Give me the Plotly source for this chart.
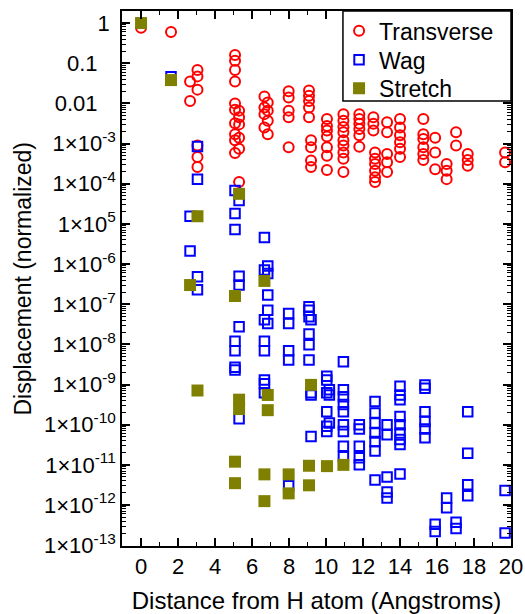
import plotly.graph_objects as go

# ---------------- data ----------------
trans_x = [0, 1.62,
           3.05, 3.05, 3.05, 3.05, 3.05, 3.05,
           2.65, 2.65,
           5.08, 5.08, 5.08, 5.08, 5.08, 5.08, 5.08, 5.08, 5.08, 5.08,
           5.3, 5.3, 5.3, 5.3, 5.3, 5.3,
           6.67, 6.67, 6.67, 6.67,
           6.85, 6.85, 6.85, 6.85,
           7.98, 7.98, 7.98, 7.98, 7.98,
           9.08, 9.08, 9.08, 9.08, 9.08,
           9.19, 9.19, 9.19, 9.19,
           10.05, 10.05, 10.05, 10.05, 10.05, 10.05, 10.05,
           10.94, 10.94, 10.94, 10.94, 10.94, 10.94, 10.94, 10.94, 10.94,
           11.8, 11.8, 11.8, 11.8, 11.8, 11.8,
           12.56, 12.56, 12.56,
           12.65, 12.65, 12.65, 12.65, 12.65, 12.65,
           13.3, 13.3, 13.3, 13.3, 13.3,
           14.0, 14.0, 14.0, 14.0, 14.0, 14.0,
           15.26, 15.26, 15.26, 15.26, 15.26, 15.26,
           15.9, 15.9, 15.9,
           16.52, 16.52, 16.52,
           17.03, 17.03,
           17.66, 17.66, 17.66,
           19.68, 19.68]
trans_y = [0.76, 0.6,
           0.068, 0.047, 0.022, 8.9e-4, 4.6e-4, 2.6e-4,
           0.035, 0.0115,
           0.16, 0.115, 0.068, 0.035, 0.010, 6.9e-3, 3.2e-3, 1.7e-3, 1.2e-3, 5.8e-4,
           6.6e-3, 4.5e-3, 3.0e-3, 1.4e-3, 7.4e-4, 1.1e-4,
           0.0148, 7.9e-3, 5.4e-3, 2.5e-3,
           0.0105, 6.6e-3, 3.7e-3, 1.7e-3,
           0.020, 0.014, 6.6e-3, 4.5e-3, 8.1e-4,
           0.021, 0.0155, 0.0115, 7.9e-3, 4.5e-3,
           1.2e-3, 8.1e-4, 3.8e-4, 2.6e-4,
           4.1e-3, 2.75e-3, 2.1e-3, 1.5e-3, 8.1e-4, 5.0e-4, 2.2e-4,
           5.4e-3, 3.7e-3, 2.6e-3, 1.9e-3, 1.2e-3, 8.9e-4, 6.0e-4, 4.2e-4, 1.95e-4,
           5.4e-3, 4.1e-3, 3.1e-3, 2.3e-3, 1.6e-3, 8.3e-4,
           4.5e-3, 3.1e-3, 2.1e-3,
           6.0e-4, 4.2e-4, 3.1e-4, 2.1e-4, 1.45e-4, 1.1e-4,
           3.4e-3, 1.9e-3, 5.5e-4, 3.4e-4, 1.95e-4,
           4.1e-3, 2.5e-3, 1.6e-3, 1.07e-3, 7.4e-4, 4.6e-4,
           4.1e-3, 1.7e-3, 1.3e-3, 8.1e-4, 5.5e-4, 3.9e-4,
           1.4e-3, 6.0e-4, 2.3e-4,
           3.1e-4, 2.1e-4, 1.3e-4,
           1.9e-3, 8.9e-4,
           5.5e-4, 3.9e-4, 2.8e-4,
           6.0e-4, 3.4e-4]

wag_x = [1.62,
         3.05, 3.05, 3.05, 3.05,
         2.65, 2.65,
         5.08, 5.08, 5.08, 5.08, 5.08, 5.08, 5.08,
         5.3, 5.3, 5.3, 5.3, 5.3,
         6.67, 6.67, 6.67, 6.67, 6.67, 6.67, 6.67, 6.67,
         6.85, 6.85, 6.85, 6.85, 6.85,
         7.98, 7.98, 7.98, 7.98, 7.98,
         9.08, 9.08, 9.08, 9.08, 9.08, 9.08,
         9.19, 9.19, 9.19, 9.19,
         10.04, 10.04, 10.04, 10.04, 10.04, 10.04,
         10.18, 10.18, 10.18,
         10.94, 10.94, 10.94, 10.94, 10.94, 10.94, 10.94, 10.94, 10.94,
         11.8, 11.8, 11.8, 11.8, 11.8,
         12.65, 12.65, 12.65, 12.65, 12.65, 12.65, 12.65,
         13.3, 13.3, 13.3, 13.3, 13.3,
         14.0, 14.0, 14.0, 14.0, 14.0, 14.0, 14.0, 14.0, 14.0,
         15.35, 15.35, 15.35, 15.35, 15.35, 15.35,
         15.9, 15.9,
         16.52, 16.52,
         17.03, 17.03,
         17.66, 17.66, 17.66, 17.66,
         19.68, 19.68]
wag_y = [0.046,
         8.5e-4, 1.3e-4, 4.8e-7, 2.3e-7,
         1.55e-5, 2.1e-6,
         6.8e-5, 1.8e-5, 7.2e-6, 1.2e-8, 6.9e-9, 2.7e-9, 2.3e-9,
         3.8e-5, 5.0e-7, 3.0e-7, 2.75e-8, 1.4e-10,
         4.6e-6, 7.1e-7, 4.1e-8, 1.2e-8, 6.9e-9, 1.3e-9, 1.05e-9, 6.2e-10,
         8.9e-7, 5.8e-7, 1.7e-7, 7.1e-8, 3.3e-8,
         5.9e-8, 3.3e-8, 6.9e-9, 4.1e-9, 3.0e-12,
         8.7e-8, 7.1e-8, 4.9e-8, 1.8e-8, 9.8e-9, 4.1e-9,
         4.1e-8, 6.2e-10, 5.5e-10, 5.1e-11,
         1.6e-9, 1.3e-9, 6.2e-10, 2.1e-10, 9.1e-11, 6.8e-11,
         7.4e-10, 5.5e-10, 1.1e-10,
         3.7e-9, 7.4e-10, 5.0e-10, 3.2e-10, 2.1e-10, 1.0e-10, 6.8e-11, 2.9e-11, 1.6e-11,
         1.0e-10, 7.8e-11, 2.9e-11, 1.5e-11, 1.0e-11,
         3.8e-10, 1.95e-10, 1.1e-10, 6.2e-11, 3.8e-11, 2.2e-11, 4.2e-12,
         1.0e-10, 5.6e-11, 5.0e-12, 2.1e-12, 1.5e-12,
         9.1e-10, 5.5e-10, 4.2e-10, 1.6e-10, 1.0e-10, 6.2e-11, 4.3e-11, 3.2e-11, 5.9e-12,
         9.8e-10, 8.1e-10, 2.1e-10, 1.2e-10, 7.8e-11, 4.7e-11,
         3.3e-13, 2.2e-13,
         1.5e-12, 8.5e-13,
         3.7e-13, 2.6e-13,
         2.1e-10, 1.95e-11, 3.2e-12, 1.7e-12,
         2.3e-12, 2.0e-13]

stretch_x = [0, 1.62, 2.65, 3.05, 3.05,
             5.08, 5.08, 5.08,
             5.3, 5.3, 5.3,
             6.67, 6.67, 6.67,
             6.85, 6.85,
             7.98, 7.98,
             9.08, 9.08, 9.19,
             10.05, 10.94]
stretch_y = [1.0, 0.038, 3.0e-7, 1.55e-5, 7.1e-10,
             1.6e-7, 1.2e-11, 3.5e-12,
             5.6e-5, 4.2e-10, 2.45e-10,
             3.8e-7, 5.8e-12, 1.25e-12,
             5.5e-10, 2.3e-10,
             5.8e-12, 1.95e-12,
             9.5e-12, 3.1e-12, 9.8e-10,
             9.3e-12, 1.0e-11]

x_tickvals = [0, 2, 4, 6, 8, 10, 12, 14, 16, 18, 20]
y_tickvals = [1, 0.1, 0.01, 1e-3, 1e-4, 1e-5, 1e-6, 1e-7, 1e-8, 1e-9,
              1e-10, 1e-11, 1e-12, 1e-13]
NB = "\u00a0"
y_ticktext = ["1" + NB, "0.1" + NB * 3, "0.01" + NB * 3,
              "1×10<sup>-3</sup>", "1×10<sup>-4</sup>", "1×10<sup>5</sup>",
              "1×10<sup>-6</sup>", "1×10<sup>-7</sup>", "1×10<sup>-8</sup>",
              "1×10<sup>-9</sup>", "1×10<sup>-10</sup>", "1×10<sup>-11</sup>",
              "1×10<sup>-12</sup>", "1×10<sup>-13</sup>"]

# minor log ticks (axis decoration only)
y_minor = [m * 10.0 ** (-k) for k in range(1, 14) for m in range(2, 10)]

FONT = "Liberation Sans, Arial, Helvetica, sans-serif"

fig = go.Figure()
fig.add_trace(go.Scatter(
    x=trans_x, y=trans_y, mode="markers", name="Transverse", legend="legend",
    marker=dict(symbol="circle-open", size=10, color="#ff0000",
                line=dict(width=2, color="#ff0000"))))
fig.add_trace(go.Scatter(
    x=wag_x, y=wag_y, mode="markers", name="Wag", legend="legend2",
    marker=dict(symbol="square-open", size=9.5, color="#0000ff",
                line=dict(width=2, color="#0000ff"))))
fig.add_trace(go.Scatter(
    x=stretch_x, y=stretch_y, mode="markers", name="Stretch", legend="legend3",
    marker=dict(symbol="square", size=12, color="#808000",
                line=dict(width=0))))

leg_common = dict(x=0.558, xanchor="left", yanchor="middle",
                  bgcolor="rgba(0,0,0,0)", borderwidth=0,
                  font=dict(family=FONT, size=23, color="black"),
                  itemsizing="trace")

fig.update_layout(
    width=525, height=614,
    margin=dict(l=122, r=14, t=10, b=68),
    paper_bgcolor="white", plot_bgcolor="white",
    font=dict(family=FONT, size=22, color="black"),
    showlegend=True,
    legend=dict(y=0.961, **leg_common),
    legend2=dict(y=0.907, **leg_common),
    legend3=dict(y=0.854, **leg_common),
    shapes=[dict(type="rect", xref="paper", yref="paper",
                 x0=0.568, x1=1.0, y0=0.832, y1=1.0,
                 line=dict(color="black", width=1.5),
                 fillcolor="white", layer="above")],
    annotations=[dict(text="Displacement (normalized)", xref="paper", yref="paper",
                      x=-0.257, y=0.5, xanchor="center", yanchor="middle",
                      textangle=-90, showarrow=False,
                      font=dict(family=FONT, size=23, color="black"))],
    xaxis=dict(
        range=[-1.03, 20], tickmode="array", tickvals=x_tickvals,
        ticks="inside", ticklen=8, tickwidth=1.5, tickcolor="black",
        showline=True, linecolor="black", linewidth=1.5, mirror="ticks",
        showgrid=False, zeroline=False,
        tickfont=dict(family=FONT, size=22),
        minor=dict(tickmode="linear", dtick=1, tick0=0, ticks="inside",
                   ticklen=4, tickwidth=1.2, tickcolor="black", showgrid=False),
        title=dict(text="Distance from H atom (Angstroms)",
                   font=dict(family=FONT, size=24), standoff=16),
        automargin=False,
    ),
    yaxis=dict(
        type="log", range=[-13.02, 0.30],
        tickmode="array", tickvals=y_tickvals, ticktext=y_ticktext,
        ticks="inside", ticklen=8, tickwidth=1.5, tickcolor="black",
        showline=True, linecolor="black", linewidth=1.5, mirror="ticks",
        showgrid=False, zeroline=False,
        tickfont=dict(family=FONT, size=22),
        minor=dict(tickmode="array", tickvals=y_minor, ticks="inside",
                   ticklen=4, tickwidth=1.2, tickcolor="black", showgrid=False),
        automargin=False,
    ),
)

fig.write_html("out.html",
               config={"displayModeBar": False},
               post_script="document.body.style.margin='0';document.body.style.padding='0';")
